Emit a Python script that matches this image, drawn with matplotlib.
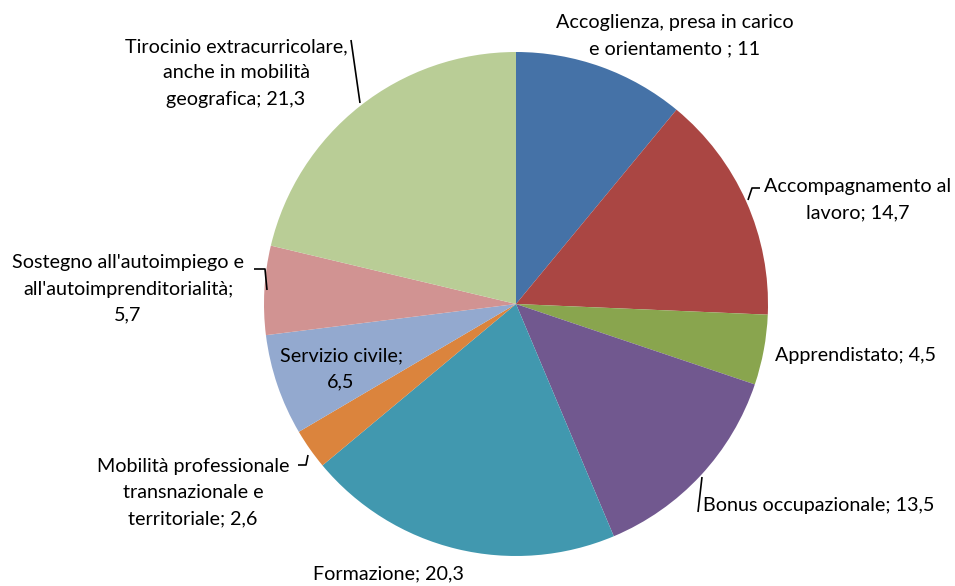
import matplotlib
matplotlib.use("Agg")
import matplotlib.pyplot as plt

categories = [
    "Accoglienza, presa in carico\ne orientamento ; 11",
    "Accompagnamento al\nlavoro; 14,7",
    "Apprendistato; 4,5",
    "Bonus occupazionale; 13,5",
    "Formazione; 20,3",
    "Mobilità professionale\ntransnazionale e\nterritoriale; 2,6",
    "Servizio civile;\n6,5",
    "Sostegno all'autoimpiego e\nall'autoimprenditorialità;\n5,7",
    "Tirocinio extracurricolare,\nanche in mobilità\ngeografica; 21,3",
]
values = [11, 14.7, 4.5, 13.5, 20.3, 2.6, 6.5, 5.7, 21.3]
colors = ["#4572A7", "#AA4643", "#89A54E", "#71588F", "#4198AF",
          "#DB843D", "#93A9CF", "#D19392", "#B9CD96"]

W, H = 955, 586
fig = plt.figure(figsize=(W / 100, H / 100), dpi=100)
ax = fig.add_axes([0, 0, 1, 1])

cx, cy, r = 516, H - 304, 252
ax.pie(values, colors=colors, startangle=90, counterclock=False,
       center=(cx, cy), radius=r, frame=True,
       wedgeprops=dict(linewidth=0))
ax.set_xlim(0, W)
ax.set_ylim(0, H)
ax.set_aspect("equal")
ax.axis("off")

font = dict(family=["Lato", "DejaVu Sans"], fontsize=14.2, color="#000000",
            linespacing=1.65)

# label placements (pixel coords, y from top)
placements = [
    (675, 36, "center", "center"),
    (858, 200, "center", "center"),
    (775, 356, "left", "center"),
    (703, 505, "left", "center"),
    (388, 574, "center", "center"),
    (193, 493, "center", "center"),
    (341, 369, "center", "center"),
    (128, 289, "center", "center"),
    (236, 73, "center", "center"),
]
for txt, (x, y, ha, va) in zip(categories, placements):
    ax.text(x, H - y, txt, ha=ha, va=va, multialignment="center", **font)

leaders = [
    [(351, 40), (360, 103)],
    [(748, 200), (752, 188), (760, 188)],
    [(254, 269), (265, 269), (267, 290)],
    [(298, 465), (306, 465), (308, 455)],
    [(702, 477), (698, 512)],
]
for pts in leaders:
    xs = [p[0] for p in pts]
    ys = [H - p[1] for p in pts]
    ax.plot(xs, ys, color="black", lw=1.2, solid_capstyle="butt")

fig.savefig("out.png", dpi=100)
